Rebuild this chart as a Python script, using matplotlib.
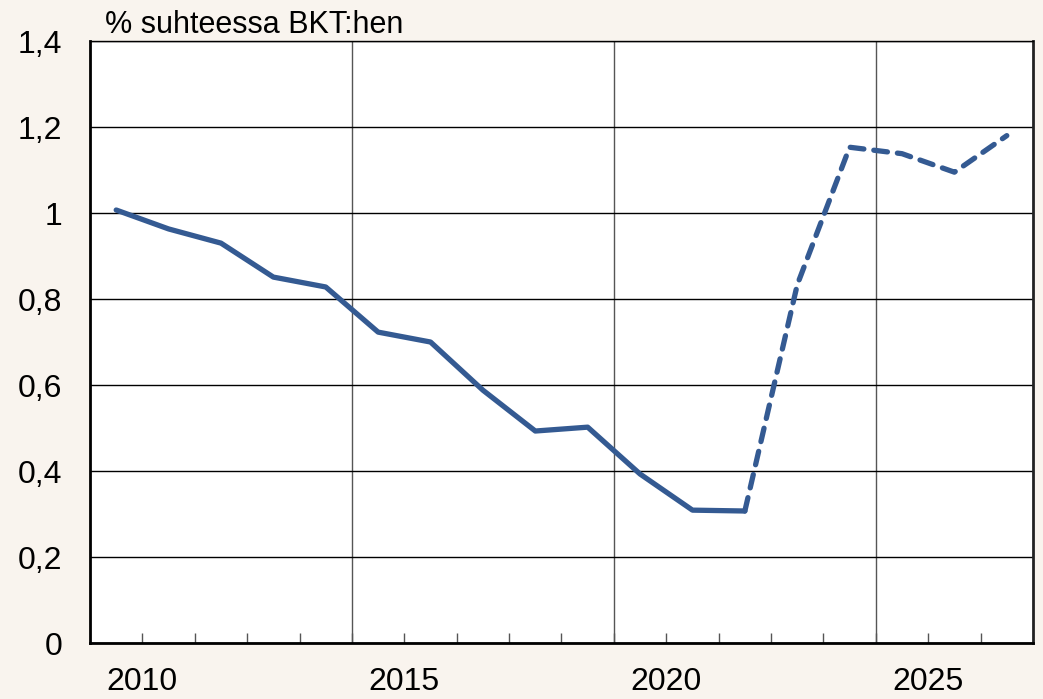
import numpy as np
import matplotlib
matplotlib.use('Agg')
from matplotlib import pyplot as plt
from matplotlib.ticker import FixedLocator, FuncFormatter

plt.rcParams['font.family'] = ['Liberation Sans', 'DejaVu Sans']

# Annual values, % of GDP
years = list(range(2010, 2028))
values = [1.007, 0.963, 0.930, 0.851, 0.828, 0.723, 0.700, 0.588, 0.493, 0.502,
          0.393, 0.309, 0.307, 0.833, 1.153, 1.138, 1.095, 1.180]
last_actual = 2022
tick_labels = ['2010', '2015', '2020', '2025']

line_color = '#345a92'
bg_color = '#f9f4ee'


def fmt(v, pos):
    if abs(v - round(v)) < 1e-9:
        return str(int(round(v)))
    return f'{v:.1f}'.replace('.', ',')


def main():
    fig = plt.figure(figsize=(10.43, 6.99), dpi=100)
    fig.patch.set_facecolor(bg_color)
    ax = fig.add_axes([0.0863, 0.0801, 0.9041, 0.8612])
    ax.set_facecolor('white')

    # category axis: points sit in the middle of each year slot
    x = np.arange(len(years)) + 0.5
    split = years.index(last_actual)
    ax.plot(x[:split + 1], values[:split + 1], color=line_color, lw=3.8,
            solid_capstyle='round', solid_joinstyle='round', zorder=3)
    ax.plot(x[split:], values[split:], color=line_color, lw=3.8,
            linestyle=(0, (2.6, 1.9)), dash_capstyle='round', zorder=3)

    ax.set_xlim(0, len(years))
    ax.set_ylim(0, 1.4)

    ax.yaxis.set_major_locator(FixedLocator(np.arange(0, 1.41, 0.2)))
    ax.yaxis.set_major_formatter(FuncFormatter(fmt))
    ax.tick_params(axis='y', length=0, pad=20, labelsize=23)
    ax.grid(axis='y', color='black', lw=1.0)

    # year boundaries get small ticks, labels at the 2010/2015/... boundaries
    ax.xaxis.set_major_locator(FixedLocator([1, 6, 11, 16]))
    ax.set_xticklabels(tick_labels)
    ax.xaxis.set_minor_locator(FixedLocator(range(1, len(years))))
    ax.tick_params(axis='x', which='both', direction='in', length=7, width=1,
                   color='#555555', labelsize=23, pad=17)
    for xv in [5, 10, 15]:
        ax.axvline(xv, color='#555555', lw=1.0, zorder=1)

    for side in ['left', 'bottom', 'right']:
        ax.spines[side].set_linewidth(2.0)
    ax.spines['right'].set_color('#222222')
    ax.spines['top'].set_linewidth(1.0)

    fig.text(0.1005, 0.953, '% suhteessa BKT:hen', fontsize=22, va='baseline', ha='left')

    fig.savefig('out.png', dpi=100, facecolor=bg_color)
    plt.close(fig)


if __name__ == '__main__':
    main()
